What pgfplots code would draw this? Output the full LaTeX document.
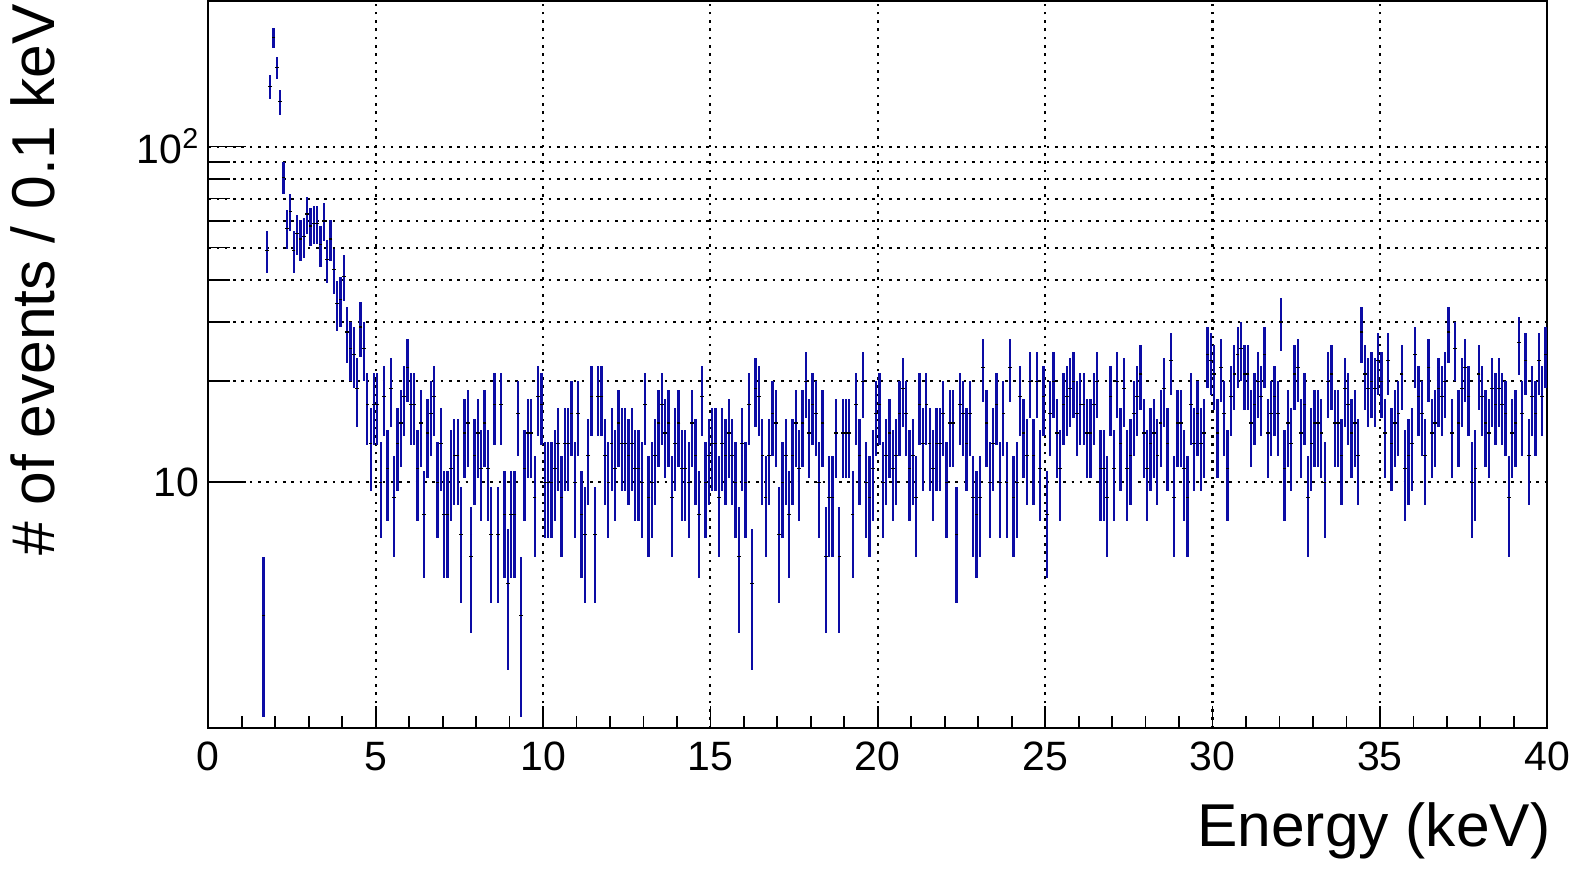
\documentclass[border=0pt]{standalone}
\usepackage{fontspec}
\setmainfont{Liberation Sans}
\usepackage{pgfplots}
\usepackage{pgfplotstable}
\pgfplotsset{compat=1.18}
\definecolor{ebblue}{RGB}{12,12,165}

% counts per 0.1 keV bin (bin centre, N); error = sqrt(N)
\pgfplotstableread[row sep=\\]{
e n\\
1.65 4\\ 1.75 49\\ 1.85 151\\ 1.95 211\\ 2.05 172\\ 2.15 136\\ 2.25 81\\ 2.35 57\\ 2.45 64\\ 2.55 49\\
2.65 55\\ 2.75 53\\ 2.85 54\\ 2.95 63\\ 3.05 58\\ 3.15 59\\ 3.25 59\\ 3.35 51\\ 3.45 60\\ 3.55 46\\
3.65 53\\ 3.75 43\\ 3.85 34\\ 3.95 35\\ 4.05 41\\ 4.15 28\\ 4.25 25\\ 4.35 24\\ 4.45 19\\ 4.55 29\\
4.65 25\\ 4.75 17\\ 4.85 13\\ 4.95 17\\ 5.05 17\\ 5.15 10\\ 5.25 18\\ 5.35 11\\ 5.45 19\\ 5.55 9\\
5.65 13\\ 5.75 15\\ 5.85 18\\ 5.95 22\\ 6.05 17\\ 6.15 17\\ 6.25 11\\ 6.35 15\\ 6.45 8\\ 6.55 14\\
6.65 16\\ 6.75 18\\ 6.85 10\\ 6.95 13\\ 7.05 8\\ 7.15 8\\ 7.25 11\\ 7.35 12\\ 7.45 12\\ 7.55 7\\
7.65 14\\ 7.75 15\\ 7.85 6\\ 7.95 12\\ 8.05 14\\ 8.15 11\\ 8.25 15\\ 8.35 11\\ 8.45 7\\ 8.55 17\\
8.65 7\\ 8.75 17\\ 8.85 8\\ 8.95 5\\ 9.05 8\\ 9.15 8\\ 9.25 16\\ 9.35 4\\ 9.45 11\\ 9.55 14\\
9.65 14\\ 9.75 9\\ 9.85 18\\ 9.95 17\\ 10.05 10\\ 10.15 10\\ 10.25 10\\ 10.35 11\\ 10.45 13\\ 10.55 9\\
10.65 13\\ 10.75 13\\ 10.85 16\\ 10.95 10\\ 11.05 16\\ 11.15 8\\ 11.25 7\\ 11.35 12\\ 11.45 18\\ 11.55 7\\
11.65 18\\ 11.75 18\\ 11.85 12\\ 11.95 10\\ 12.05 13\\ 12.15 11\\ 12.25 15\\ 12.35 13\\ 12.45 13\\ 12.55 12\\
12.65 13\\ 12.75 11\\ 12.85 11\\ 12.95 10\\ 13.05 17\\ 13.15 9\\ 13.25 10\\ 13.35 12\\ 13.45 15\\ 13.55 17\\
13.65 14\\ 13.75 15\\ 13.85 9\\ 13.95 13\\ 14.05 15\\ 14.15 11\\ 14.25 11\\ 14.35 10\\ 14.45 15\\ 14.55 12\\
14.65 8\\ 14.75 18\\ 14.85 10\\ 14.95 12\\ 15.05 13\\ 15.15 13\\ 15.25 9\\ 15.35 13\\ 15.45 12\\ 15.55 14\\
15.65 12\\ 15.75 10\\ 15.85 6\\ 15.95 13\\ 16.05 10\\ 16.15 17\\ 16.25 5\\ 16.35 19\\ 16.45 18\\ 16.55 12\\
16.65 9\\ 16.75 12\\ 16.85 16\\ 16.95 15\\ 17.05 7\\ 17.15 10\\ 17.25 12\\ 17.35 8\\ 17.45 12\\ 17.55 15\\
17.65 11\\ 17.75 15\\ 17.85 20\\ 17.95 14\\ 18.05 17\\ 18.15 16\\ 18.25 10\\ 18.35 15\\ 18.45 6\\ 18.55 9\\
18.65 9\\ 18.75 14\\ 18.85 6\\ 18.95 14\\ 19.05 14\\ 19.15 14\\ 19.25 8\\ 19.35 17\\ 19.45 12\\ 19.55 20\\
19.65 10\\ 19.75 9\\ 19.85 11\\ 19.95 16\\ 20.05 17\\ 20.15 10\\ 20.25 12\\ 20.35 14\\ 20.45 11\\ 20.55 12\\
20.65 16\\ 20.75 19\\ 20.85 16\\ 20.95 11\\ 21.05 12\\ 21.15 9\\ 21.25 17\\ 21.35 13\\ 21.45 17\\ 21.55 13\\
21.65 11\\ 21.75 13\\ 21.85 13\\ 21.95 16\\ 22.05 10\\ 22.15 15\\ 22.25 15\\ 22.35 7\\ 22.45 17\\ 22.55 16\\
22.65 13\\ 22.75 16\\ 22.85 9\\ 22.95 8\\ 23.05 9\\ 23.15 22\\ 23.25 15\\ 23.35 10\\ 23.45 13\\ 23.55 17\\
23.65 10\\ 23.75 16\\ 23.85 10\\ 23.95 22\\ 24.05 9\\ 24.15 10\\ 24.25 18\\ 24.35 14\\ 24.45 12\\ 24.55 20\\
24.65 12\\ 24.75 20\\ 24.85 11\\ 24.95 18\\ 25.05 8\\ 25.15 16\\ 25.25 20\\ 25.35 14\\ 25.45 11\\ 25.55 17\\
25.65 18\\ 25.75 19\\ 25.85 20\\ 25.95 16\\ 26.05 17\\ 26.15 17\\ 26.25 14\\ 26.35 14\\ 26.45 17\\ 26.55 20\\
26.65 11\\ 26.75 11\\ 26.85 9\\ 26.95 18\\ 27.05 11\\ 27.15 20\\ 27.25 13\\ 27.35 19\\ 27.45 11\\ 27.55 12\\
27.65 16\\ 27.75 18\\ 27.85 21\\ 27.95 14\\ 28.05 11\\ 28.15 13\\ 28.25 14\\ 28.35 12\\ 28.45 15\\ 28.55 19\\
28.65 13\\ 28.75 23\\ 28.85 9\\ 28.95 15\\ 29.05 15\\ 29.15 11\\ 29.25 9\\ 29.35 17\\ 29.45 13\\ 29.55 16\\
29.65 13\\ 29.75 14\\ 29.85 24\\ 29.95 23\\ 30.05 21\\ 30.15 14\\ 30.25 22\\ 30.35 16\\ 30.45 11\\ 30.55 18\\
30.65 21\\ 30.75 24\\ 30.85 25\\ 30.95 21\\ 31.05 21\\ 31.15 15\\ 31.25 17\\ 31.35 20\\ 31.45 18\\ 31.55 24\\
31.65 14\\ 31.75 16\\ 31.85 18\\ 31.95 16\\ 32.05 30\\ 32.15 11\\ 32.25 15\\ 32.35 13\\ 32.45 21\\ 32.55 22\\
32.65 14\\ 32.75 17\\ 32.85 9\\ 32.95 13\\ 33.05 15\\ 33.15 15\\ 33.25 14\\ 33.35 10\\ 33.45 20\\ 33.55 21\\
33.65 15\\ 33.75 15\\ 33.85 12\\ 33.95 19\\ 34.05 17\\ 34.15 14\\ 34.25 15\\ 34.35 12\\ 34.45 28\\ 34.55 21\\
34.65 19\\ 34.75 20\\ 34.85 19\\ 34.95 23\\ 35.05 20\\ 35.15 14\\ 35.25 23\\ 35.35 13\\ 35.45 15\\ 35.55 16\\
35.65 21\\ 35.75 11\\ 35.85 12\\ 35.95 13\\ 36.05 24\\ 36.15 18\\ 36.25 16\\ 36.35 12\\ 36.45 22\\ 36.55 14\\
36.65 15\\ 36.75 19\\ 36.85 18\\ 36.95 20\\ 37.05 28\\ 37.15 14\\ 37.25 25\\ 37.35 15\\ 37.45 19\\ 37.55 22\\
37.65 18\\ 37.75 10\\ 37.85 11\\ 37.95 21\\ 38.05 18\\ 38.15 15\\ 38.25 14\\ 38.35 19\\ 38.45 17\\ 38.55 19\\
38.65 17\\ 38.75 16\\ 38.85 9\\ 38.95 14\\ 39.05 15\\ 39.15 26\\ 39.25 16\\ 39.35 23\\ 39.45 12\\ 39.55 18\\
39.65 16\\ 39.75 23\\ 39.85 18\\ 39.95 24\\
}\spectrum

\begin{document}
\begin{tikzpicture}
\useasboundingbox (-104.15pt,-70.85pt) rectangle (683.35pt,364.15pt);
\begin{axis}[
    at={(0,0)}, anchor=south west,
    scale only axis,
    width=669.5pt,
    height=363.65pt,
    ymode=log,
    xmin=0, xmax=40,
    ymin=1.847, ymax=271.6,
    xtick={0,5,...,40},
    minor x tick num=0,
    extra x ticks={1,2,3,4,6,7,8,9,11,12,13,14,16,17,18,19,21,22,23,24,26,27,28,29,31,32,33,34,36,37,38,39},
    extra x tick labels={},
    extra x tick style={major tick length=6pt, grid=none},
    ytick={10,100},
    yticklabels={10,10\textsuperscript{2}},
    extra y ticks={10,100},
    extra y tick labels={},
    extra y tick style={major tick length=19pt, grid=none},
    /pgf/number format/assume math mode=true,
    tick pos=left,
    tick align=inside,
    major tick length=11pt,
    minor tick length=11pt,
    tick style={black, line width=0.9pt},
    axis line style={line width=0.9pt},
    xmajorgrids=true, xminorgrids=false,
    ymajorgrids=true, yminorgrids=true,
    major grid style={black, line width=1.05pt, dash pattern=on 1.3pt off 2.85pt},
    minor grid style={black, line width=1.05pt, dash pattern=on 1.3pt off 2.85pt},
    tick label style={font=\fontsize{20.5pt}{24pt}\selectfont},
    xticklabel style={yshift=-3.25pt},
    yticklabel style={xshift=-1pt},
    label style={font=\fontsize{30.25pt}{36pt}\selectfont},
    xlabel={Energy (keV)},
    xlabel style={at={(axis description cs:1.0075,-0.1632)}, anchor=base east},
    ylabel={\# of events / 0.1 keV},
    ylabel style={at={(axis description cs:-0.1145,1.005)}, anchor=base east},
]
\addplot[only marks, mark=-, mark size=0.9pt, mark options={black, line width=0.6pt},
    error bars/.cd, y dir=both, y explicit, error mark=none,
    error bar style={ebblue, line width=1.15pt}]
    table[x=e, y=n, y error expr=sqrt(\thisrow{n})] {\spectrum};
\end{axis}
\end{tikzpicture}
\end{document}
